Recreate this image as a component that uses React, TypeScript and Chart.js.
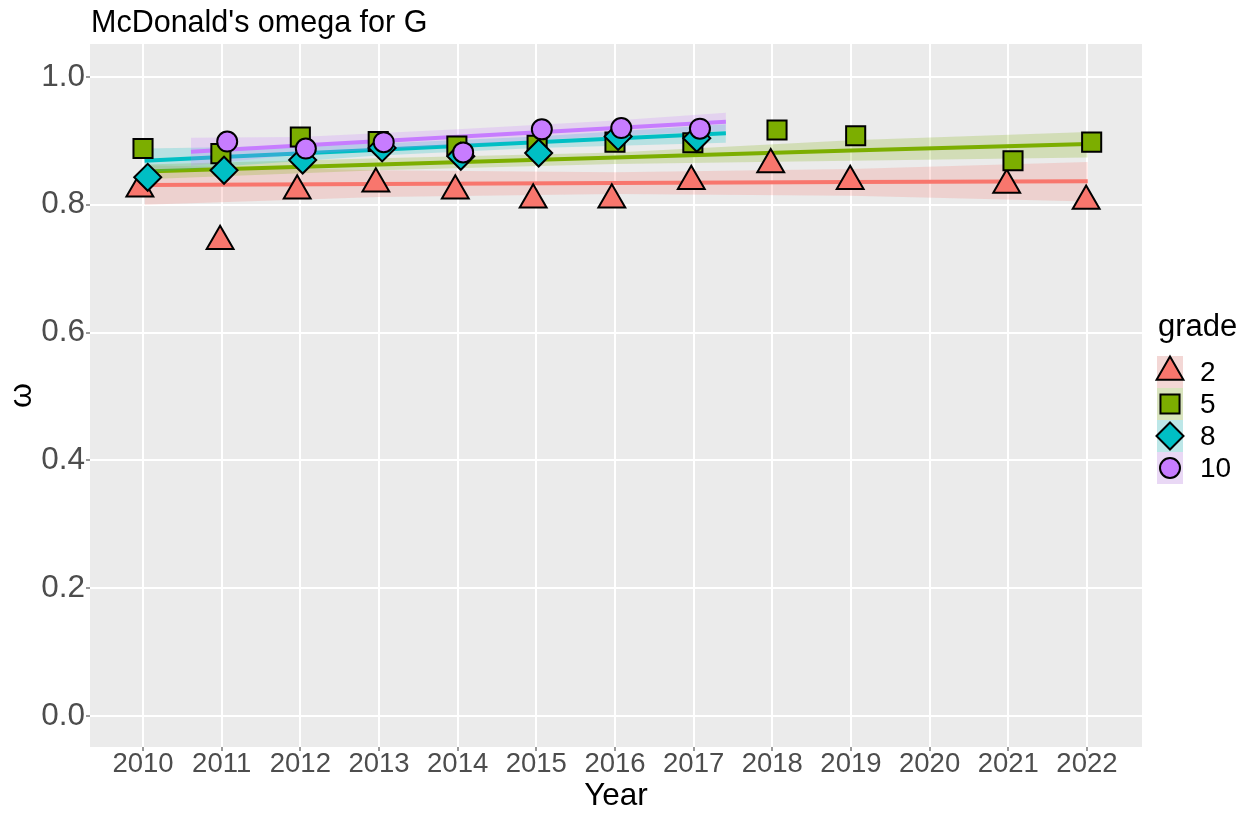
import React, { useEffect, useRef } from 'react';
import { Chart, registerables } from 'chart.js';

Chart.register(...registerables);

const FONT = "'Liberation Sans', Arial, sans-serif";

// Axis tick labels
const yearTicks = [2010, 2011, 2012, 2013, 2014, 2015, 2016, 2017, 2018, 2019, 2020, 2021, 2022];
const omegaTicks = [0.0, 0.2, 0.4, 0.6, 0.8, 1.0];

// Legend / groups
const grades = ['2', '5', '8', '10'];
const gradeColors = ['#F8766D', '#7CAE00', '#00BFC4', '#C77CFF'];
const ribbonColors = ['rgba(248,118,109,0.22)', 'rgba(124,174,0,0.22)', 'rgba(0,191,196,0.22)', 'rgba(199,124,255,0.22)'];
const pointStyles = ['triangle', 'rect', 'rectRot', 'circle'];
const pointRadii = [15.5, 13.5, 13.5, 10];

// Observed omega values (x slightly dodged as in the picture)
const grade2Year = [2009.96, 2010.98, 2011.96, 2012.96, 2013.97, 2014.96, 2015.96, 2016.97, 2017.98, 2018.99, 2020.98, 2021.99];
const grade2Omega = [0.825, 0.743, 0.822, 0.833, 0.822, 0.808, 0.808, 0.837, 0.863, 0.837, 0.831, 0.806];

const grade5Year = [2010.0, 2010.99, 2012.0, 2012.99, 2013.99, 2015.01, 2016.0, 2016.99, 2018.06, 2019.06, 2021.06, 2022.06];
const grade5Omega = [0.888, 0.880, 0.906, 0.899, 0.892, 0.893, 0.898, 0.897, 0.917, 0.908, 0.869, 0.898];

const grade8Year = [2010.06, 2011.03, 2012.03, 2013.04, 2014.04, 2015.03, 2016.04, 2017.04];
const grade8Omega = [0.843, 0.854, 0.870, 0.889, 0.876, 0.881, 0.907, 0.904];

const grade10Year = [2011.07, 2012.07, 2013.06, 2014.07, 2015.07, 2016.08, 2017.08];
const grade10Omega = [0.899, 0.888, 0.898, 0.882, 0.918, 0.920, 0.919];

// Linear fits with confidence bands
const fit2Year = [2010.02, 2013, 2016, 2019, 2022.01];
const fit2Value = [0.831, 0.8325, 0.834, 0.8355, 0.837];
const fit2Lower = [0.800, 0.812, 0.817, 0.814, 0.805];
const fit2Upper = [0.862, 0.854, 0.851, 0.856, 0.867];

const fit5Year = [2010.02, 2013, 2016, 2019, 2022.01];
const fit5Value = [0.852, 0.863, 0.874, 0.885, 0.895];
const fit5Lower = [0.840, 0.854, 0.864, 0.869, 0.874];
const fit5Upper = [0.863, 0.873, 0.882, 0.901, 0.914];

const fit8Year = [2010.02, 2011, 2013, 2015, 2017.41];
const fit8Value = [0.869, 0.8747, 0.8863, 0.898, 0.912];
const fit8Lower = [0.850, 0.860, 0.877, 0.889, 0.897];
const fit8Upper = [0.888, 0.890, 0.896, 0.907, 0.926];

const fit10Year = [2010.61, 2012, 2014, 2016, 2017.41];
const fit10Value = [0.883, 0.8926, 0.9064, 0.9203, 0.930];
const fit10Lower = [0.861, 0.879, 0.894, 0.908, 0.916];
const fit10Upper = [0.905, 0.906, 0.918, 0.932, 0.944];

const pointSeries = [
  [grade2Year, grade2Omega],
  [grade5Year, grade5Omega],
  [grade8Year, grade8Omega],
  [grade10Year, grade10Omega],
];
const fitSeries = [
  [fit2Year, fit2Value, fit2Lower, fit2Upper],
  [fit5Year, fit5Value, fit5Lower, fit5Upper],
  [fit8Year, fit8Value, fit8Lower, fit8Upper],
  [fit10Year, fit10Value, fit10Lower, fit10Upper],
];

const xy = (xs: number[], ys: number[]) => xs.map((x, i) => ({ x, y: ys[i] }));

function drawShape(ctx: CanvasRenderingContext2D, style: string, x: number, y: number, r: number, fill: string) {
  ctx.beginPath();
  if (style === 'triangle') {
    let a = 0;
    ctx.moveTo(x + Math.sin(a) * r, y - Math.cos(a) * r);
    a += (2 * Math.PI) / 3;
    ctx.lineTo(x + Math.sin(a) * r, y - Math.cos(a) * r);
    a += (2 * Math.PI) / 3;
    ctx.lineTo(x + Math.sin(a) * r, y - Math.cos(a) * r);
    ctx.closePath();
  } else if (style === 'rect') {
    const s = Math.SQRT1_2 * r;
    ctx.rect(x - s, y - s, 2 * s, 2 * s);
  } else if (style === 'rectRot') {
    ctx.moveTo(x - r, y);
    ctx.lineTo(x, y - r);
    ctx.lineTo(x + r, y);
    ctx.lineTo(x, y + r);
    ctx.closePath();
  } else {
    ctx.arc(x, y, r, 0, Math.PI * 2);
  }
  ctx.fillStyle = fill;
  ctx.fill();
  ctx.lineWidth = 2;
  ctx.strokeStyle = '#000000';
  ctx.stroke();
}

const decorPlugin = {
  id: 'ggDecor',
  beforeDraw(chart: any) {
    const { ctx, chartArea } = chart;
    ctx.save();
    ctx.fillStyle = '#EBEBEB';
    ctx.fillRect(chartArea.left, chartArea.top, chartArea.right - chartArea.left, chartArea.bottom - chartArea.top);
    ctx.restore();
  },
  afterDraw(chart: any) {
    const { ctx, chartArea } = chart;
    ctx.save();
    // Title
    ctx.fillStyle = '#000000';
    ctx.font = `30.5px ${FONT}`;
    ctx.textAlign = 'left';
    ctx.textBaseline = 'alphabetic';
    ctx.fillText("McDonald's omega for G", chartArea.left + 1, 32);

    // Legend
    const lx = chartArea.right + 16;
    ctx.font = `31px ${FONT}`;
    ctx.fillText('grade', lx, 336);
    grades.forEach((g, i) => {
      const top = 356 + i * 32;
      const cy = top + 16;
      const cx = lx + 12;
      ctx.fillStyle = '#F2F2F2';
      ctx.fillRect(lx - 1, top, 26, 32);
      ctx.fillStyle = ribbonColors[i];
      ctx.fillRect(lx - 1, top, 26, 32);
      drawShape(ctx, pointStyles[i], cx, cy, pointRadii[i], gradeColors[i]);
      ctx.fillStyle = '#000000';
      ctx.font = `28px ${FONT}`;
      ctx.textBaseline = 'middle';
      ctx.fillText(g, lx + 42, cy + 1);
      ctx.textBaseline = 'alphabetic';
    });
    ctx.restore();
  },
};

export default function App() {
  const canvasRef = useRef<HTMLCanvasElement | null>(null);

  useEffect(() => {
    if (!canvasRef.current) return;
    const datasets: any[] = [];
    grades.forEach((g, i) => {
      const [fx, fv, flo, fhi] = fitSeries[i];
      datasets.push({
        label: `upper ${g}`,
        data: xy(fx, fhi),
        borderWidth: 0,
        pointRadius: 0,
        fill: '+1',
        backgroundColor: ribbonColors[i],
        order: 200 - i * 10,
      });
      datasets.push({
        label: `lower ${g}`,
        data: xy(fx, flo),
        borderWidth: 0,
        pointRadius: 0,
        fill: false,
        order: 200 - i * 10,
      });
      datasets.push({
        label: `fit ${g}`,
        data: xy(fx, fv),
        borderColor: gradeColors[i],
        borderWidth: 4,
        pointRadius: 0,
        fill: false,
        order: 195 - i * 10,
      });
    });
    grades.forEach((g, i) => {
      const [px, py] = pointSeries[i];
      datasets.push({
        label: g,
        data: xy(px, py),
        showLine: false,
        pointStyle: pointStyles[i],
        pointRadius: pointRadii[i],
        backgroundColor: gradeColors[i],
        borderColor: '#000000',
        borderWidth: 2,
        order: 10 - i,
      });
    });

    const chart = new Chart(canvasRef.current, {
      type: 'line',
      data: { datasets },
      options: {
        animation: false,
        responsive: false,
        events: [],
        layout: { padding: { left: 0, top: 44, right: 110, bottom: 0 } },
        elements: { line: { tension: 0 } },
        plugins: {
          legend: { display: false },
          tooltip: { enabled: false },
          title: { display: false },
        },
        scales: {
          x: {
            type: 'linear',
            min: 2009.326,
            max: 2022.7,
            afterBuildTicks: (s: any) => {
              s.ticks = yearTicks.map((v) => ({ value: v }));
            },
            afterFit: (s: any) => {
              s.height = 70;
            },
            ticks: {
              autoSkip: false,
              maxRotation: 0,
              minRotation: 0,
              padding: 0,
              color: '#4D4D4D',
              font: { family: FONT, size: 27.5, lineHeight: 1 },
              callback: (v: any) => String(v),
            },
            grid: { color: '#FFFFFF', lineWidth: 2, tickColor: '#333333', tickLength: 4, tickWidth: 1 },
            border: { display: false },
            title: {
              display: true,
              text: 'Year',
              color: '#000000',
              font: { family: FONT, size: 31.5 },
              padding: { top: 0, bottom: 2 },
            },
          },
          y: {
            type: 'linear',
            min: -0.0485,
            max: 1.0516,
            afterBuildTicks: (s: any) => {
              s.ticks = omegaTicks.map((v) => ({ value: v }));
            },
            afterFit: (s: any) => {
              s.width = 90;
            },
            ticks: {
              padding: 1,
              color: '#4D4D4D',
              font: { family: FONT, size: 31.5 },
              callback: (v: any) => Number(v).toFixed(1),
            },
            grid: { color: '#FFFFFF', lineWidth: 2, tickColor: '#333333', tickLength: 4, tickWidth: 1 },
            border: { display: false },
            title: {
              display: true,
              text: 'ω',
              color: '#000000',
              font: { family: FONT, size: 32 },
              padding: { top: 3, bottom: 0 },
            },
          },
        },
      },
      plugins: [decorPlugin],
    } as any);

    return () => chart.destroy();
  }, []);

  return (
    <div style={{ position: 'absolute', left: 0, top: 0, width: 1252, height: 817, background: '#FFFFFF' }}>
      <canvas ref={canvasRef} width={1252} height={817} style={{ display: 'block' }} />
    </div>
  );
}
